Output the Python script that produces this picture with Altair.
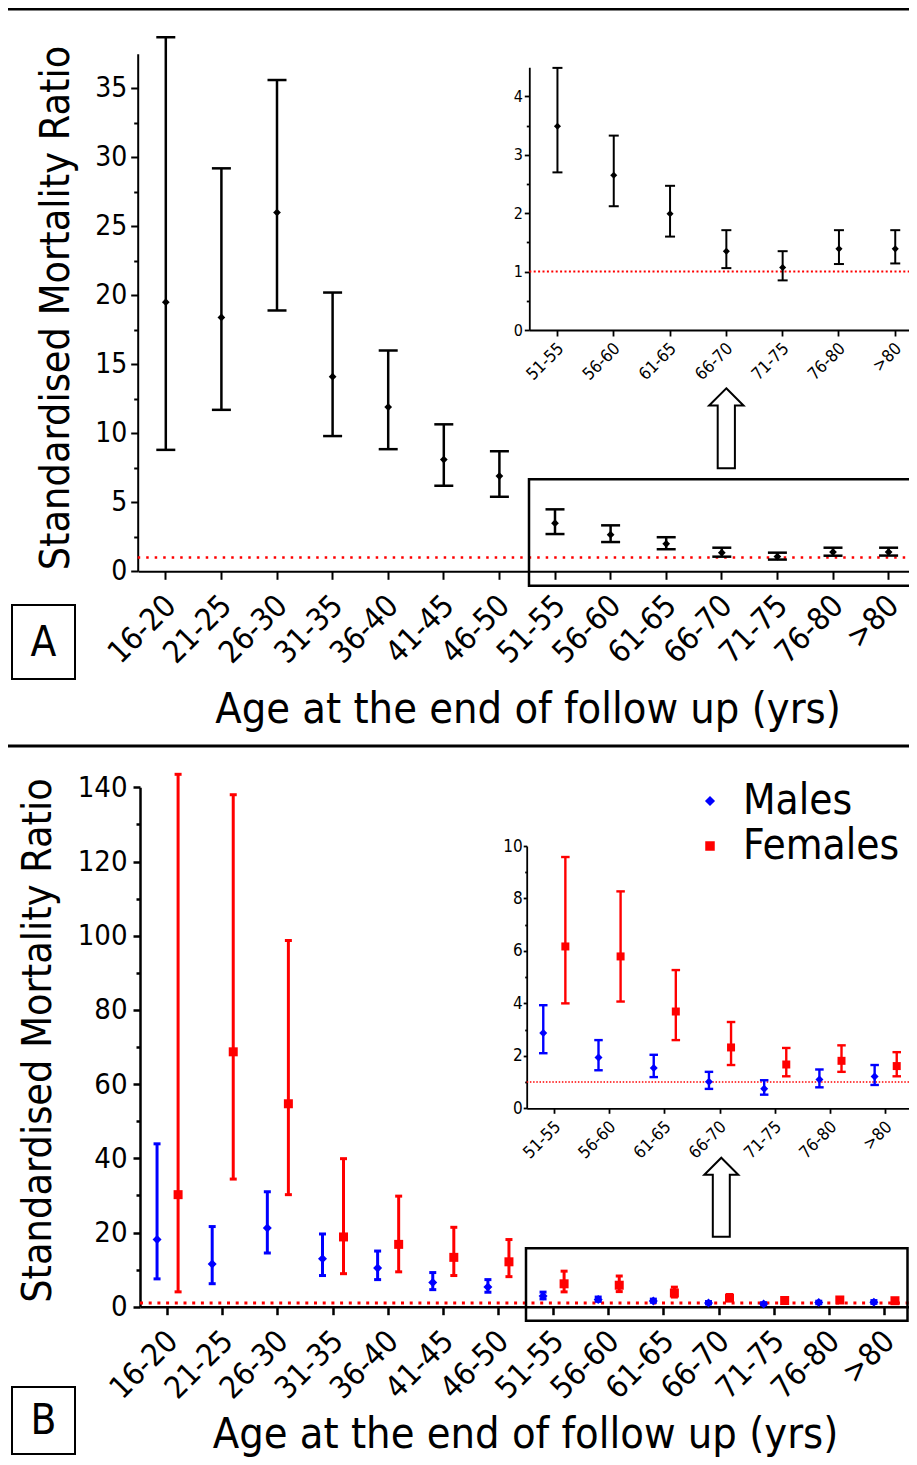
import altair as alt
import pandas as pd

FONT = "DejaVu Sans Condensed, Liberation Sans, sans-serif"
W, H = 901, 1449

# ---------------- data ----------------
ages = ["16-20", "21-25", "26-30", "31-35", "36-40", "41-45", "46-50",
        "51-55", "56-60", "61-65", "66-70", "71-75", "76-80", ">80"]

# Panel A (all)
smr_all = [19.5, 18.4, 26.0, 14.1, 11.9, 8.1, 6.9, 3.49, 2.65, 1.99, 1.35, 1.07, 1.39, 1.39]
lo_all = [8.8, 11.7, 18.9, 9.8, 8.85, 6.2, 5.4, 2.70, 2.12, 1.60, 1.06, 0.85, 1.13, 1.14]
hi_all = [38.7, 29.2, 35.6, 20.2, 16.0, 10.65, 8.7, 4.49, 3.33, 2.47, 1.71, 1.35, 1.71, 1.71]

# Panel B
sexes = ["Males", "Females"]
sex_colors = ["#0000ff", "#ff0000"]
sex_shapes = ["diamond", "square"]
m_smr = [18.1, 11.5, 21.2, 12.9, 10.4, 6.5, 5.3, 2.87, 1.94, 1.54, 1.01, 0.75, 1.10, 1.21]
m_lo = [7.5, 6.2, 14.5, 8.4, 7.3, 4.6, 3.9, 2.10, 1.45, 1.19, 0.74, 0.52, 0.80, 0.89]
m_hi = [43.9, 21.6, 31.0, 19.6, 15.0, 9.2, 7.3, 3.93, 2.60, 2.04, 1.39, 1.07, 1.48, 1.65]
f_smr = [30.2, 68.7, 54.7, 18.8, 16.8, 13.3, 12.1, 6.17, 5.79, 3.69, 2.32, 1.67, 1.81, 1.61]
f_lo = [4.0, 34.4, 30.2, 8.9, 9.4, 8.4, 8.1, 4.00, 4.07, 2.60, 1.65, 1.22, 1.39, 1.22]
f_hi = [143.5, 138.0, 98.7, 39.9, 29.8, 21.4, 18.1, 9.58, 8.27, 5.27, 3.29, 2.30, 2.40, 2.14]

# axis tick values (major + minor)
yA_ticks = [0, 2.5, 5, 7.5, 10, 12.5, 15, 17.5, 20, 22.5, 25, 27.5, 30, 32.5, 35]
yAi_ticks = [0, 0.5, 1, 1.5, 2, 2.5, 3, 3.5, 4]
yB_ticks = [0, 10, 20, 30, 40, 50, 60, 70, 80, 90, 100, 110, 120, 130, 140]
yBi_ticks = [0, 1, 2, 3, 4, 5, 6, 7, 8, 9, 10]
ref_value = [1.0]

inset_ages = ages[7:]

dfA = pd.DataFrame({"age": ages, "smr": smr_all, "lo": lo_all, "hi": hi_all})
dfA_in = dfA[dfA["age"].isin(inset_ages)]
dfB = pd.concat([
    pd.DataFrame({"age": ages, "sex": "Males", "smr": m_smr, "lo": m_lo, "hi": m_hi}),
    pd.DataFrame({"age": ages, "sex": "Females", "smr": f_smr, "lo": f_lo, "hi": f_hi}),
], ignore_index=True)
dfB_in = dfB[dfB["age"].isin(inset_ages)]
ref_df = pd.DataFrame({"ref": ref_value})
one = pd.DataFrame({"k": [0]})

ARROW = "M0,-1L0.43,-0.57L0.215,-0.57L0.215,1L-0.215,1L-0.215,-0.57L-0.43,-0.57Z"


def is_major(step):
    return f"abs(datum.value / {step} - round(datum.value / {step})) < 0.000001"


def y_axis(x_px, values, step, fs, major, minor, width, pad, title=None, tx=0, ty=0, tfs=40):
    kw = dict(orient="left", offset=-x_px, values=values,
              labelExpr=f"{is_major(step)} ? format(datum.value, 'd') : ''",
              tickSize={"condition": {"test": is_major(step), "value": major}, "value": minor},
              tickWidth=width, domainWidth=width, labelFontSize=fs, labelPadding=pad,
              labelFont=FONT)
    if title:
        kw.update(title=title, titleX=tx, titleY=ty, titleAngle=270, titleAlign="center",
                  titleBaseline="alphabetic", titleFontSize=tfs, titleFontWeight="normal",
                  titleFont=FONT)
    else:
        kw["title"] = None
    return alt.Axis(**kw)


def x_axis(y_px, fs, tick, width, pad, loff=0, title=None, tx=0, ty=0, tfs=43):
    kw = dict(orient="bottom", offset=y_px - H, labelAngle=-45, labelAlign="right",
              labelBaseline="top", labelFontSize=fs, labelPadding=pad, tickSize=tick,
              labelOffset=loff, tickWidth=width, domainWidth=width, labelFont=FONT)
    if title:
        kw.update(title=title, titleX=tx, titleY=ty, titleAlign="center",
                  titleBaseline="alphabetic", titleFontSize=tfs, titleFontWeight="normal",
                  titleFont=FONT)
    else:
        kw["title"] = None
    return alt.Axis(**kw)


def panel(df, cats, xrange, xaxis, yscale, yaxis, rule_w, cap_w, cap_t, pt_size,
          ref_x, ref_w, ref_dash, grouped=False, off_pad=0.3, legend=None):
    x = alt.X("age:N", sort=cats,
              scale=alt.Scale(domain=cats, range=xrange, paddingInner=0, paddingOuter=0),
              axis=xaxis)
    enc = {"x": x}
    if grouped:
        enc["xOffset"] = alt.XOffset("sex:N", sort=sexes,
                                     scale=alt.Scale(domain=sexes, paddingInner=0,
                                                     paddingOuter=off_pad))
        enc["color"] = alt.Color("sex:N", scale=alt.Scale(domain=sexes, range=sex_colors),
                                 legend=legend)
        mark_col = {}
    else:
        mark_col = {"color": "black"}
    base = alt.Chart(df).encode(**enc)

    def Y(f):
        return alt.Y(f, scale=yscale, axis=yaxis)

    refl = alt.Chart(ref_df).mark_rule(color="#ff0000", strokeWidth=ref_w,
                                       strokeDash=ref_dash).encode(
        y=Y("ref:Q"), x=alt.value(ref_x[0]), x2=alt.value(ref_x[1]))
    rule = base.mark_rule(strokeWidth=rule_w, **mark_col).encode(y=Y("lo:Q"), y2="hi:Q")
    cap_lo = base.mark_tick(size=cap_w, thickness=cap_t, opacity=1, **mark_col).encode(y=Y("lo:Q"))
    cap_hi = base.mark_tick(size=cap_w, thickness=cap_t, opacity=1, **mark_col).encode(y=Y("hi:Q"))
    if grouped:
        pts = base.mark_point(filled=True, size=pt_size, opacity=1).encode(
            y=Y("smr:Q"),
            shape=alt.Shape("sex:N", scale=alt.Scale(domain=sexes, range=sex_shapes),
                            legend=legend))
    else:
        pts = base.mark_point(filled=True, size=pt_size, opacity=1, shape="diamond",
                              color="black").encode(y=Y("smr:Q"))
    return alt.layer(refl, rule, cap_lo, cap_hi, pts)


# ---------------- Panel A main ----------------
A_main = panel(
    dfA, ages, [130, 908.4],
    x_axis(563.3, 31, 8, 2, 11, -5, "Age at the end of follow up (yrs)", 519.5, 151.4, 43),
    alt.Scale(domain=[0, 37.5], range=[563.3, 45.8], nice=False, zero=False),
    y_axis(129.7, yA_ticks, 5, 28, 7, 4, 2, 4, "Standardised Mortality Ratio", -69.4, 299.5, 41),
    2.5, 19, 2.5, 60, (129.7, W), 2.5, [2.5, 6])

# ---------------- Panel A inset ----------------
A_in = panel(
    dfA_in, inset_ages, [521.3, 915.4],
    x_axis(322, 17, 6, 1.8, 4, -2),
    alt.Scale(domain=[0, 4.5], range=[322, 59.3], nice=False, zero=False),
    y_axis(521.3, yAi_ticks, 1, 16, 5, 3, 1.8, 2),
    2, 10, 2, 50, (521.3, W), 2, [2, 2.4])

# ---------------- Panel B main ----------------
legB = alt.Legend(orient="none", legendX=681, legendY=772, title=None,
                  labelFontSize=42, labelFont=FONT, symbolSize=64, labelOffset=12,
                  rowPadding=3, padding=0, labelColor="black")
B_main = panel(
    dfB, ages, [132, 904],
    x_axis(1298.7, 31, 8, 2.5, 11, -5, "Age at the end of follow up (yrs)", 517, 141, 43),
    alt.Scale(domain=[0, 140], range=[1298.7, 779.3], nice=False, zero=False),
    y_axis(132, yB_ticks, 20, 29, 7, 4, 2.5, 6, "Standardised Mortality Ratio", -90, 1032, 41),
    3, 7, 3, 81, (132, W), 3, [3, 5.7], grouped=True, off_pad=0.31, legend=legB)

# ---------------- Panel B inset ----------------
B_in = panel(
    dfB_in, inset_ages, [518.7, 905.3],
    x_axis(1100.3, 17, 5, 1.8, 5, -2),
    alt.Scale(domain=[0, 10], range=[1100.3, 838], nice=False, zero=False),
    y_axis(518.7, yBi_ticks, 2, 17, 3.5, 2, 1.8, 1),
    2.4, 8.5, 2.4, 64, (518.7, W), 1.5, [1.5, 1.7], grouped=True, off_pad=0.25)

# ---------------- decorations ----------------
def hline(y, w):
    return alt.Chart(one).mark_rule(color="black", strokeWidth=w).encode(
        x=alt.value(0), x2=alt.value(W), y=alt.value(y))


def box(x0, x1, y0, y1, w):
    return alt.Chart(one).mark_rect(fillOpacity=0, stroke="black", strokeWidth=w).encode(
        x=alt.value(x0), x2=alt.value(x1), y=alt.value(y0), y2=alt.value(y1))


def label(t, x, y):
    return alt.Chart(one).mark_text(text=t, font=FONT, fontSize=42, color="black",
                                    align="center", baseline="middle").encode(
        x=alt.value(x), y=alt.value(y))


def arrow(x, y, size):
    return alt.Chart(one).mark_point(shape=ARROW, size=size, filled=False, color="black",
                                     strokeWidth=2, opacity=1).encode(
        x=alt.value(x), y=alt.value(y))


deco = [
    hline(1, 3), hline(738, 3),
    box(521, 910, 471.3, 577.7, 2.5),
    box(518, 899.5, 1240.3, 1312.7, 2.5),
    box(4, 67, 597, 671, 2), label("A", 35.5, 635),
    box(4, 67, 1379, 1446, 2), label("B", 35.5, 1413),
    arrow(718.3, 420.3, 6400), arrow(713.3, 1189.2, 6241),
]

chart = alt.layer(A_main, A_in, B_main, B_in, *deco).resolve_scale(
    x="independent", y="independent", color="independent", shape="independent",
    xOffset="independent"
).properties(
    width=W, height=H, autosize=alt.AutoSizeParams(type="none"), padding=0
).configure_axis(
    grid=False, domainColor="black", tickColor="black", labelColor="black",
    titleColor="black", labelOverlap=False, labelFont=FONT, titleFont=FONT
).configure_view(stroke=None)

chart.save("out.html", embed_options={"renderer": "svg", "actions": False})
